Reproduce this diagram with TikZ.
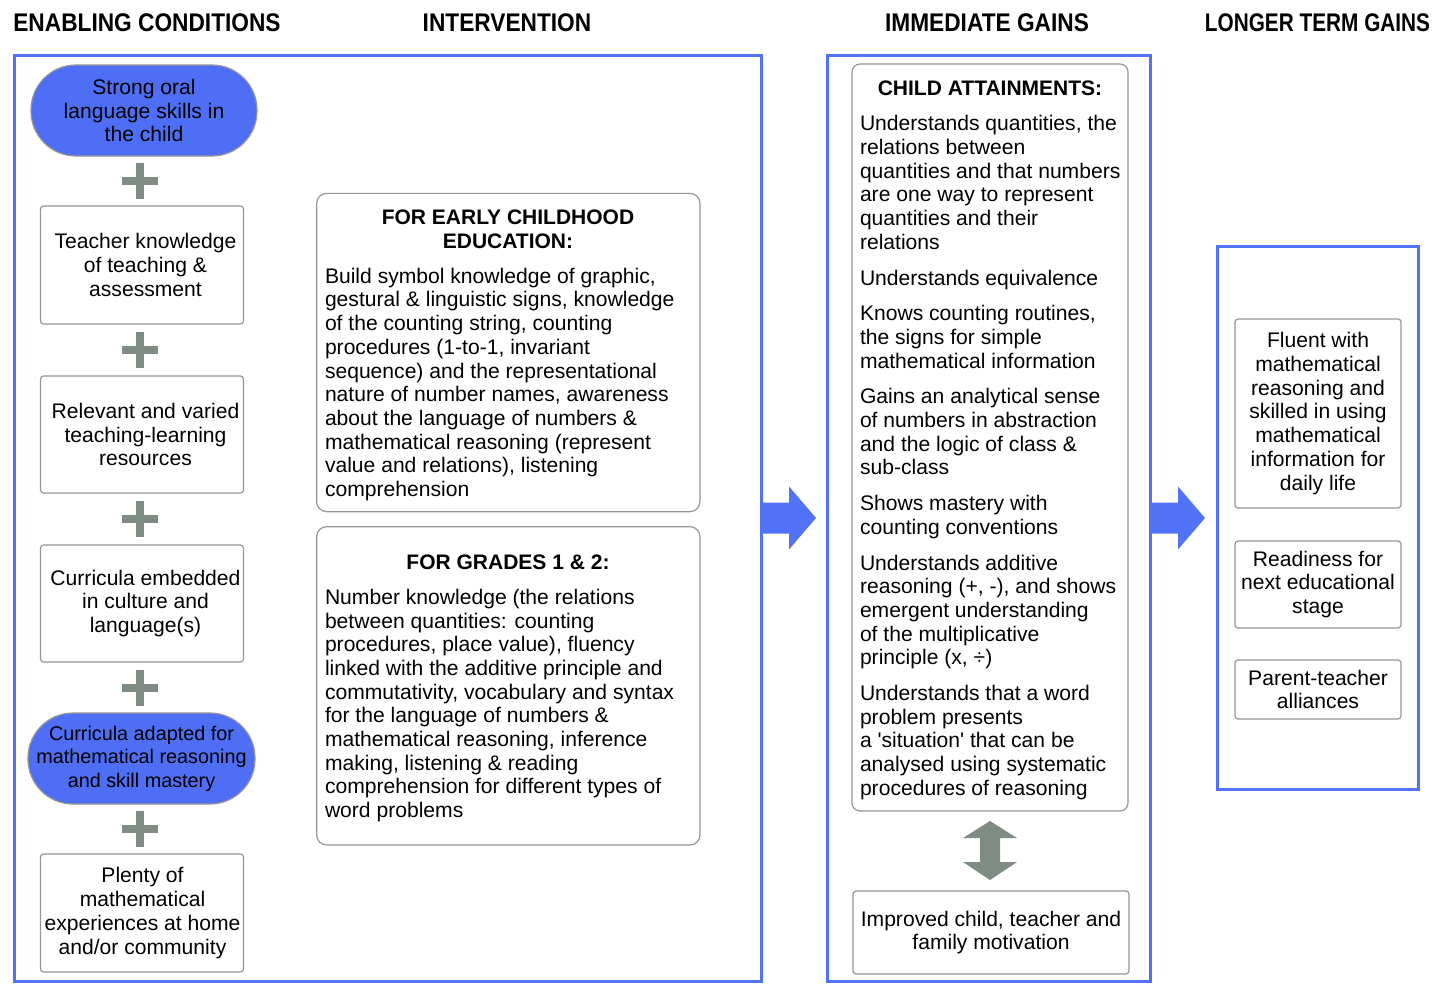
\documentclass[tikz,border=0pt]{standalone}
\usepackage{fontspec}
\setmainfont{Liberation Sans}
\usetikzlibrary{calc}
\definecolor{fblue}{RGB}{82,114,247}
\definecolor{nblue}{RGB}{78,110,246}
\definecolor{pgrey}{RGB}{127,140,132}
\definecolor{bgrey}{RGB}{150,150,150}
\tikzset{
  hdr/.style={font=\bfseries\fontsize{25.5}{28}\selectfont},
  frame/.style={draw=fblue, line width=3pt},
  bluebox/.style={draw=bgrey, fill=nblue, line width=1.2pt, rounded corners=45pt, align=center},
  wbox/.style={draw=bgrey, fill=white, line width=1.2pt, rounded corners=3pt, align=center},
  wtext/.style={align=center, xshift=3.5pt},
  ibox/.style={draw=bgrey, fill=white, line width=1.2pt, rounded corners=10pt},
  ttl/.style={font=\bfseries\fontsize{21}{23.7}\selectfont, align=center},
  body/.style={align=left, anchor=north west},
  plus/.style={draw=pgrey, line width=8pt},
  bigarrow/.style={fill=fblue},
  dblarrow/.style={fill=pgrey}
}
\begin{document}
\begin{tikzpicture}[x=1pt,y=-1pt,
  every node/.style={inner sep=0pt, outer sep=0pt, font=\fontsize{21.1}{23.7}\selectfont}]
\useasboundingbox (0,0) rectangle (1432,983);

% headers
\node[hdr] (h1) at (147,22.5) {\scalebox{0.89}[1]{ENABLING CONDITIONS}};
\node[hdr] (h2) at (507,22.5) {\scalebox{0.89}[1]{INTERVENTION}};
\node[hdr] (h3) at (987,22.5) {\scalebox{0.89}[1]{IMMEDIATE GAINS}};
\node[hdr] (h4) at (1317.5,22.5) {\scalebox{0.815}[1]{LONGER TERM GAINS}};

% frames
\node[frame, minimum width=746.5pt, minimum height=926pt] (intv) at (387.75,518) {};
\node[frame, minimum width=323pt, minimum height=926pt] (imm) at (988.5,518) {};
\node[frame, minimum width=201pt, minimum height=543pt] (long) at (1317.5,517.5) {};

% block arrows
\fill[bigarrow] ($(intv.east)+(0,-15.5)$) -- ++(28,0) -- ++(0,-16) -- ++(27,31.5)
  -- ++(-27,31.5) -- ++(0,-16) -- ++(-28,0) -- cycle;
\fill[bigarrow] ($(imm.east)+(0,-15.5)$) -- ++(28,0) -- ++(0,-16) -- ++(27,31.5)
  -- ++(-27,31.5) -- ++(0,-16) -- ++(-28,0) -- cycle;

% enabling conditions
\node[bluebox, minimum width=226pt, minimum height=91pt] (c1) at (144,110.5)
  {Strong oral\\language skills in\\the child};
\node[wbox, minimum width=203pt, minimum height=118pt] (c2) at (142,265) {};
\node[wtext] (c2t) at (c2.center) {Teacher knowledge\\of teaching \&\\assessment};
\node[wbox, minimum width=203pt, minimum height=117pt] (c3) at (142,434.5) {};
\node[wtext] (c3t) at (c3.center) {Relevant and varied\\teaching-learning\\resources};
\node[wbox, minimum width=203pt, minimum height=117pt] (c4) at (142,603.5) {};
\node[wtext] (c4t) at (c4.center) {Curricula embedded\\in culture and\\language(s)};
\node[bluebox, minimum width=227pt, minimum height=91pt, font=\fontsize{19.8}{23.5}\selectfont] (c5) at (141.5,758.5)
  {Curricula adapted for\\mathematical reasoning\\and skill mastery};
\node[wbox, minimum width=203pt, minimum height=118pt] (c6) at (142,913) {};
\node[wtext, xshift=-3pt] (c6t) at (c6.center) {Plenty of\\mathematical\\experiences at home\\and/or community};

\coordinate (pc) at (140,0);
\foreach \a/\b in {c1/c2,c2/c3,c3/c4,c4/c5,c5/c6}{
  \coordinate (mid) at ($(\a.south)!0.5!(\b.north)$);
  \coordinate (p) at (pc |- mid);
  \draw[plus] ($(p)+(-18,0)$) -- ($(p)+(18,0)$) ($(p)+(0,-18)$) -- ($(p)+(0,18)$);
}

% intervention
\node[ibox, minimum width=383.3pt, minimum height=318.3pt] (ece) at (508.3,352.5) {};
\node[ttl] (ecet) at (508,229) {FOR EARLY CHILDHOOD\\EDUCATION:};
\node[body] (eceb) at (325,268) {Build symbol knowledge of graphic,\\
gestural \& linguistic signs, knowledge\\
of the counting string, counting\\
procedures (1-to-1, invariant\\
sequence) and the representational\\
nature of number names, awareness\\
about the language of numbers \&\\
mathematical reasoning (represent\\
value and relations), listening\\
comprehension};

\node[ibox, minimum width=383.3pt, minimum height=318.3pt] (gr) at (508.3,685.8) {};
\node[ttl] (grt) at (508,562) {FOR GRADES 1 \& 2:};
\node[body] (grb) at (325,589) {Number knowledge (the relations\\
between quantities: counting\\
procedures, place value), fluency\\
linked with the additive principle and\\
commutativity, vocabulary and syntax\\
for the language of numbers \&\\
mathematical reasoning, inference\\
making, listening \& reading\\
comprehension for different types of\\
word problems};

% immediate gains
\node[ibox, rounded corners=8pt, minimum width=276pt, minimum height=747pt] (att) at (990,437.5) {};
\node[ttl] (attt) at (990,88.3) {CHILD ATTAINMENTS:};
\node[body] (attb) at (860,115.5) {Understands quantities, the\\relations between\\quantities and that numbers\\are one way to represent\\quantities and their\\relations\\[12pt]
Understands equivalence\\[12pt]
Knows counting routines,\\the signs for simple\\mathematical information\\[12pt]
Gains an analytical sense\\of numbers in abstraction\\and the logic of class \&\\sub-class\\[12pt]
Shows mastery with\\counting conventions\\[12pt]
Understands additive\\reasoning (+, -), and shows\\emergent understanding\\of the multiplicative\\principle (x, ÷)\\[12pt]
Understands that a word\\problem presents\\a \textquotesingle situation\textquotesingle{} that can be\\analysed using systematic\\procedures of reasoning};

\node[wbox, minimum width=276pt, minimum height=83pt] (mot) at (991,932.5)
  {Improved child, teacher and\\family motivation};

\fill[dblarrow] ($(att.south)+(0,10)$) -- ++(27,17) -- ++(-17,0) -- ++(0,24) -- ++(17,0)
  -- ++(-27,18) -- ++(-27,-18) -- ++(17,0) -- ++(0,-24) -- ++(-17,0) -- cycle;

% longer term gains
\node[wbox, minimum width=166pt, minimum height=189pt] (r1) at (1318,413.5)
  {Fluent with\\mathematical\\reasoning and\\skilled in using\\mathematical\\information for\\daily life};
\node[wbox, minimum width=166pt, minimum height=87pt] (r2) at (1318,584.5)
  {Readiness for\\next educational\\stage};
\node[wbox, minimum width=166pt, minimum height=59pt] (r3) at (1318,689.5)
  {Parent-teacher\\alliances};
\end{tikzpicture}
\end{document}
